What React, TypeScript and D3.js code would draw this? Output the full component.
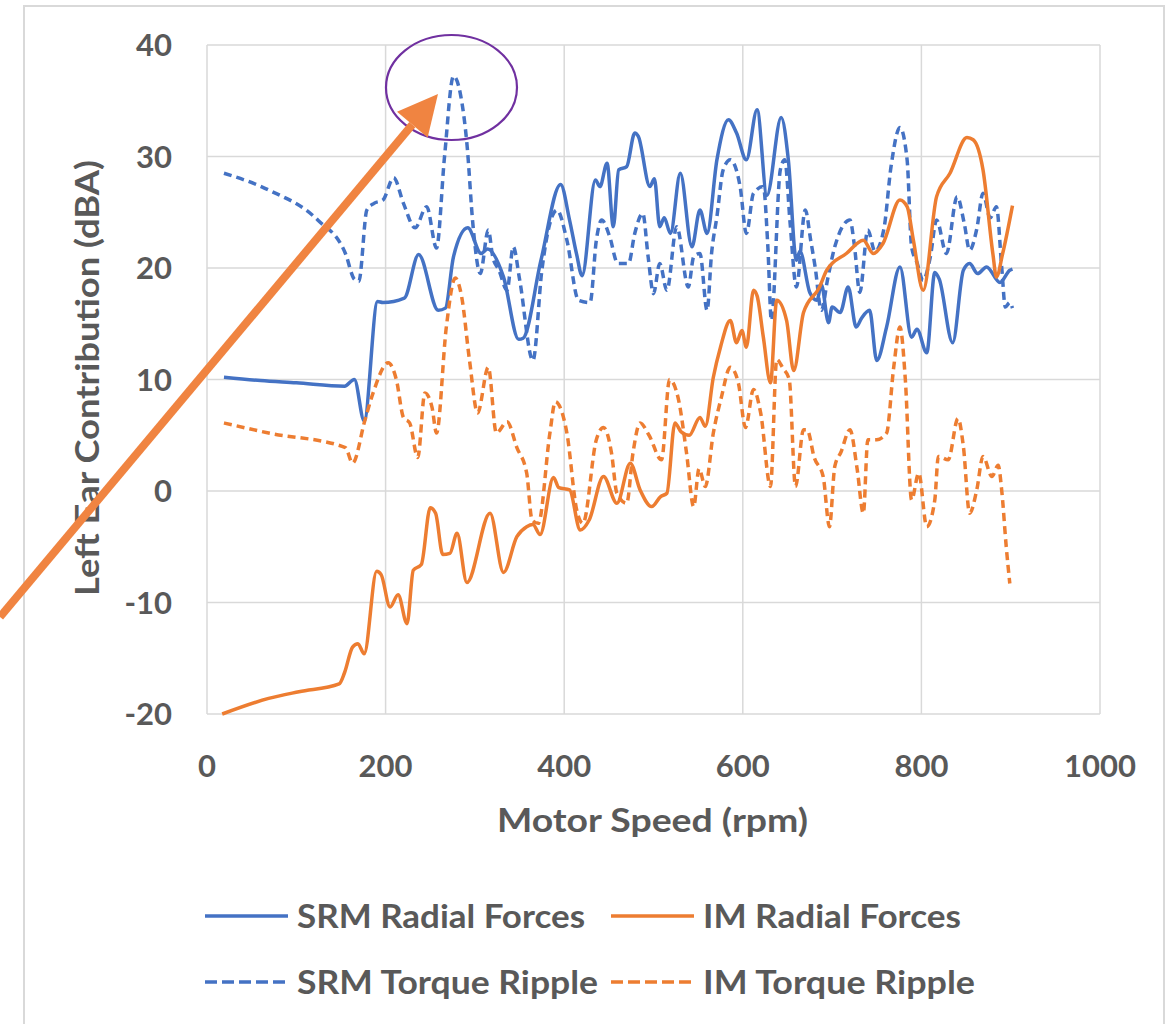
import React from 'react';
import * as d3 from 'd3';

type P = [number, number];

const xTicks = [0, 200, 400, 600, 800, 1000];
const yTicks = [-20, -10, 0, 10, 20, 30, 40];

const srmRadial: P[] = [
  [19, 10.2], [60, 9.9], [100, 9.7], [154, 9.4], [165, 10.0], [176, 6.3], [191, 17.0], [197, 16.9],
  [221, 17.3], [237, 21.2], [259, 16.2], [267, 16.4], [276, 21.0], [292, 23.6], [307, 21.3], [314, 21.7],
  [332, 19.2], [349, 13.6], [354, 13.7], [374, 20.7], [396, 27.5], [406, 24.3], [414, 21.2], [420, 19.3],
  [435, 27.9], [440, 27.3], [448, 29.4], [455, 23.7], [461, 28.8], [470, 29.1], [479, 32.1], [483, 31.8],
  [496, 27.3], [501, 28.0], [507, 23.7], [512, 24.5], [519, 23.1], [530, 28.5], [543, 21.9], [552, 25.2],
  [560, 23.1], [571, 29.7], [584, 33.3], [593, 32.1], [604, 29.7], [616, 34.2], [627, 26.5], [643, 33.5],
  [651, 29.7], [660, 20.7], [664, 21.5], [675, 17.8], [683, 17.1], [688, 18.5], [696, 15.1], [700, 16.5],
  [709, 16.0], [718, 18.3], [727, 14.7], [733, 15.5], [742, 16.2], [750, 11.7], [761, 14.7], [776, 20.1],
  [789, 13.8], [795, 14.5], [806, 12.4], [815, 19.6], [820, 19.0], [835, 13.3], [847, 19.8], [854, 20.4],
  [863, 19.5], [873, 20.1], [888, 18.7], [899, 19.8], [902, 19.9],
];

const srmTorque: P[] = [
  [19, 28.5], [69, 27.0], [124, 24.3], [155, 21.3], [165, 19.0], [170, 18.8], [179, 25.2], [187, 25.8],
  [197, 26.1], [209, 28.1], [220, 25.8], [233, 23.6], [246, 25.5], [257, 21.8], [266, 30.0], [276, 37.2],
  [284, 35.5], [291, 31.2], [298, 23.7], [306, 19.5], [315, 23.4], [320, 21.0], [327, 19.8], [336, 18.0],
  [343, 21.9], [350, 19.0], [365, 11.7], [375, 19.8], [384, 24.0], [392, 25.2], [403, 22.5], [416, 17.1],
  [429, 16.9], [436, 22.5], [442, 24.3], [451, 22.8], [460, 20.4], [472, 20.4], [479, 23.1], [488, 24.9],
  [494, 21.0], [500, 17.7], [507, 20.4], [515, 18.0], [526, 23.7], [539, 18.3], [545, 21.0], [552, 21.3],
  [560, 16.2], [565, 21.3], [571, 24.6], [578, 28.8], [586, 29.7], [597, 27.3], [604, 23.1], [612, 26.7],
  [623, 27.3], [628, 22.0], [632, 15.3], [642, 28.8], [647, 29.7], [653, 24.0], [660, 18.3], [670, 25.2],
  [676, 22.5], [681, 20.1], [688, 16.2], [695, 19.0], [703, 21.9], [720, 24.3], [725, 22.0], [731, 17.8],
  [740, 23.4], [748, 21.5], [758, 23.5], [766, 29.1], [776, 32.6], [784, 29.7], [789, 21.9], [795, 20.5],
  [802, 18.9], [810, 21.0], [817, 24.3], [828, 21.3], [840, 26.4], [848, 24.0], [854, 21.6], [862, 23.5],
  [869, 26.7], [877, 24.5], [884, 25.5], [890, 20.0], [894, 16.5], [899, 16.9], [902, 16.4],
];

const imRadial: P[] = [
  [17, -20.0], [69, -18.6], [103, -18.0], [148, -17.3], [154, -16.3], [163, -14.0], [169, -13.7], [176, -14.6],
  [190, -7.2], [195, -7.5], [205, -10.4], [214, -9.3], [224, -11.9], [231, -7.1], [240, -6.6], [250, -1.5],
  [256, -2.0], [264, -5.7], [272, -5.6], [280, -3.8], [291, -8.2], [317, -2.0], [332, -7.3], [347, -4.1],
  [358, -3.2], [365, -3.0], [373, -3.9], [388, 1.2], [394, 0.3], [406, 0.1], [418, -3.5], [428, -2.6],
  [444, 1.3], [459, -1.1], [474, 2.5], [485, 0.1], [498, -1.4], [508, -0.5], [515, -0.2], [524, 6.1],
  [531, 5.3], [540, 5.0], [552, 6.6], [558, 5.8], [567, 10.2], [575, 12.9], [586, 15.3], [593, 13.3],
  [599, 14.4], [604, 12.9], [612, 18.0], [616, 17.5], [623, 13.8], [631, 9.7], [638, 17.1], [649, 15.3],
  [657, 10.8], [668, 16.0], [686, 18.3], [694, 19.8], [716, 21.3], [735, 22.5], [746, 21.3], [757, 22.2],
  [776, 26.1], [784, 25.5], [791, 22.5], [802, 18.0], [817, 26.4], [832, 28.5], [851, 31.7], [858, 31.5],
  [869, 28.8], [880, 21.3], [884, 19.2], [891, 21.3], [902, 25.6],
];

const imTorque: P[] = [
  [19, 6.1], [69, 5.2], [155, 3.9], [163, 2.5], [177, 6.4], [186, 8.8], [203, 11.5], [212, 10.0],
  [220, 6.6], [227, 6.1], [236, 3.0], [244, 8.8], [252, 7.5], [257, 5.2], [268, 14.7], [278, 19.1],
  [285, 17.5], [294, 11.7], [303, 7.0], [315, 11.1], [324, 5.2], [336, 6.2], [347, 3.9], [358, 1.6],
  [364, -2.6], [371, -2.9], [384, 5.2], [390, 8.0], [403, 5.2], [414, -1.7], [421, -2.9], [436, 4.6],
  [444, 5.7], [453, 3.4], [459, -0.2], [470, -1.1], [477, 3.4], [485, 6.1], [495, 5.0], [509, 2.8],
  [518, 10.0], [528, 8.2], [537, 3.4], [545, -1.4], [551, 2.0], [558, 0.4], [567, 5.2], [576, 8.4],
  [586, 11.1], [595, 9.7], [603, 5.7], [612, 9.1], [620, 7.0], [631, 0.4], [638, 11.8], [645, 11.0],
  [652, 10.0], [659, 0.4], [668, 5.5], [672, 5.5], [680, 3.0], [690, 1.3], [697, -3.2], [703, 2.2],
  [710, 3.5], [720, 5.5], [728, 2.0], [735, -2.0], [740, 4.6], [750, 4.6], [761, 5.2], [769, 11.1],
  [776, 14.7], [782, 10.0], [789, -0.8], [797, 1.6], [806, -3.2], [815, -0.8], [819, 3.1], [830, 2.8],
  [841, 6.5], [847, 4.0], [854, -2.0], [862, 0.1], [869, 3.1], [879, 1.3], [886, 2.3], [890, 0.0],
  [895, -5.0], [899, -8.3],
];

const seriesNames = ['SRM Radial Forces', 'SRM Torque Ripple', 'IM Radial Forces', 'IM Torque Ripple'];

const BLUE = '#4472C4';
const ORANGE = '#ED7D31';
const TEXT = '#595959';
const GRID = '#D9D9D9';
const FONT = 'Lato, "Open Sans", sans-serif';

export default function App() {
  const W = 1173;
  const H = 1024;
  const x = d3.scaleLinear().domain([0, 1000]).range([207, 1100]);
  const y = d3.scaleLinear().domain([-20, 40]).range([714, 45]);
  const line = d3
    .line<P>()
    .x((d) => x(d[0]))
    .y((d) => y(d[1]))
    .curve(d3.curveMonotoneX);

  const series = [
    { name: seriesNames[0], data: srmRadial, color: BLUE, dash: undefined as string | undefined },
    { name: seriesNames[1], data: srmTorque, color: BLUE, dash: '8,5' },
    { name: seriesNames[2], data: imRadial, color: ORANGE, dash: undefined },
    { name: seriesNames[3], data: imTorque, color: ORANGE, dash: '8,5' },
  ];

  const legend = [
    { s: series[0], lx: 205, ly: 916, tx: 297, tw: 288 },
    { s: series[2], lx: 611, ly: 916, tx: 703, tw: 258 },
    { s: series[1], lx: 205, ly: 982, tx: 297, tw: 301 },
    { s: series[3], lx: 611, ly: 982, tx: 703, tw: 272 },
  ];

  // arrow geometry
  const start: P = [0, 617];
  const tip: P = [438, 94];
  const dx = tip[0] - start[0];
  const dy = tip[1] - start[1];
  const len = Math.sqrt(dx * dx + dy * dy);
  const ux = dx / len;
  const uy = dy / len;
  const headLen = 40;
  const headHalf = 20;
  const bx = tip[0] - ux * headLen;
  const by = tip[1] - uy * headLen;
  const nx = -uy;
  const ny = ux;
  const headPts = `${tip[0]},${tip[1]} ${bx + nx * headHalf},${by + ny * headHalf} ${bx - nx * headHalf},${by - ny * headHalf}`;

  return (
    <svg
      width={W}
      height={H}
      viewBox={`0 0 ${W} ${H}`}
      style={{ position: 'absolute', left: 0, top: 0, background: '#fff' }}
      fontFamily={FONT}
    >
      <rect x={0} y={0} width={W} height={H} fill="#fff" />
      <rect x={24} y={6} width={1140} height={1040} fill="#fff" stroke={GRID} strokeWidth={2} />

      {/* gridlines */}
      {yTicks.map((t) => (
        <line key={'gy' + t} x1={x(0)} x2={x(1000)} y1={y(t)} y2={y(t)} stroke={GRID} strokeWidth={1.5} />
      ))}
      {xTicks.map((t) => (
        <line key={'gx' + t} x1={x(t)} x2={x(t)} y1={y(-20)} y2={y(40)} stroke={GRID} strokeWidth={1.5} />
      ))}

      {/* tick labels */}
      {yTicks.map((t) => (
        <text key={'ly' + t} x={172} y={y(t) + 11} textAnchor="end" fontSize={31} fontWeight={700} fill={TEXT}>
          {t}
        </text>
      ))}
      {xTicks.map((t) => (
        <text key={'lx' + t} x={x(t)} y={777} textAnchor="middle" fontSize={31} fontWeight={700} fill={TEXT}>
          {t}
        </text>
      ))}

      {/* axis titles */}
      <text
        x={652.5}
        y={832}
        textAnchor="middle"
        fontSize={32}
        fontWeight={700}
        fill={TEXT}
        textLength={311}
        lengthAdjust="spacingAndGlyphs"
      >
        Motor Speed (rpm)
      </text>
      <text
        transform="translate(99,378) rotate(-90)"
        textAnchor="middle"
        fontSize={32}
        fontWeight={700}
        fill={TEXT}
        textLength={436}
        lengthAdjust="spacingAndGlyphs"
      >
        Left Ear Contribution (dBA)
      </text>

      {/* series */}
      {series.map((s) => (
        <path
          key={s.name}
          d={line(s.data) || ''}
          fill="none"
          stroke={s.color}
          strokeWidth={3.5}
          strokeDasharray={s.dash}
          strokeLinejoin="round"
        />
      ))}

      {/* legend */}
      {legend.map((l) => (
        <g key={'lg' + l.s.name}>
          <line
            x1={l.lx}
            x2={l.lx + 83}
            y1={l.ly}
            y2={l.ly}
            stroke={l.s.color}
            strokeWidth={3.5}
            strokeDasharray={l.s.dash ? '12,5' : undefined}
          />
          <text
            x={l.tx}
            y={l.ly + 12}
            fontSize={32}
            fontWeight={700}
            fill={TEXT}
            textLength={l.tw}
            lengthAdjust="spacingAndGlyphs"
          >
            {l.s.name}
          </text>
        </g>
      ))}

      {/* annotation */}
      <ellipse cx={451.5} cy={87.5} rx={65.5} ry={52.5} fill="none" stroke="#7030A0" strokeWidth={2.2} />
      <line x1={start[0]} y1={start[1]} x2={bx} y2={by} stroke="#F08441" strokeWidth={8} />
      <polygon points={headPts} fill="#F08441" />
    </svg>
  );
}
